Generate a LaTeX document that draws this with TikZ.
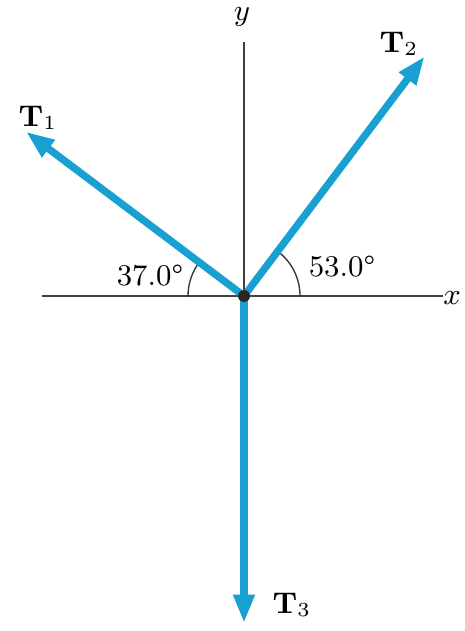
\documentclass[tikz,border=0pt]{standalone}
\usetikzlibrary{arrows.meta}
\definecolor{forceblue}{RGB}{25,160,210}
\begin{document}
\begin{tikzpicture}[x=0.3pt,y=0.3pt,
  force/.style={line width=2.2pt,forceblue,-{Triangle[length=8.5pt,width=6pt]}},
  axis/.style={line width=0.4pt,black!75},
  anglearc/.style={line width=0.4pt,black!80},
  lbl/.style={font=\fontsize{9}{10}\selectfont}]
\useasboundingbox (-244,-335) rectangle (220,296);

\coordinate (O) at (0,0);
\coordinate (xl) at (-202,0);
\coordinate (xr) at (199,0);
\coordinate (yt) at (0,254);
\coordinate (tipa) at (143:273);
\coordinate (tipb) at (53:300);
\coordinate (tipc) at (0,-327);

\draw[axis] (xl) -- (xr);
\draw[axis] (O) -- (yt);
\node[lbl] (xlab) at (208,-2) {$x$};
\node[lbl] (ylab) at (-2,279) {$y$};

\draw[anglearc] (56,0) arc (0:53:56);
\draw[anglearc] (-56,0) arc (180:143:56);
\node[lbl] (anga) at (-94,20) {37.0\textdegree};
\node[lbl] (angb) at (98,29) {53.0\textdegree};

\draw[force] (O) -- (tipa);
\draw[force] (O) -- (tipb);
\draw[force] (O) -- (tipc);
\fill[black!85] (O) circle (1.8pt);

\node[lbl] (Ta) at (-206,178) {$\mathbf{T}_1$};
\node[lbl] (Tb) at (155,252) {$\mathbf{T}_2$};
\node[lbl] (Tc) at (48,-309) {$\mathbf{T}_3$};
\end{tikzpicture}
\end{document}
